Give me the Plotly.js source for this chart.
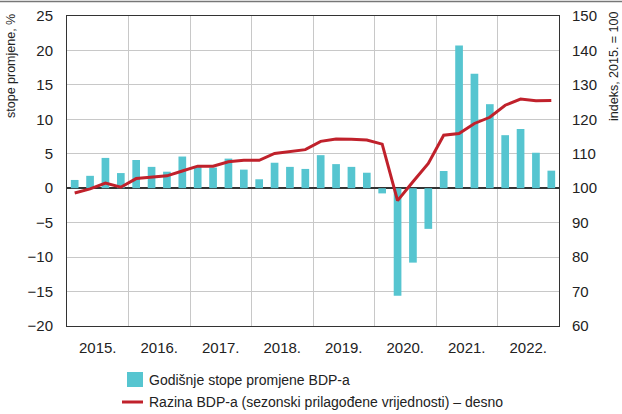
<!DOCTYPE html>
<html>
<head>
<meta charset="utf-8">
<script src="https://cdn.plot.ly/plotly-3.0.1.min.js"></script>
<style>html,body{margin:0;padding:0;background:#fff;}#chart{width:622px;height:414px;}</style>
</head>
<body>
<div id="chart"></div>
<script>
const years = ['2015.', '2016.', '2017.', '2018.', '2019.', '2020.', '2021.', '2022.'];
const quarters = ['2015Q1','2015Q2','2015Q3','2015Q4','2016Q1','2016Q2','2016Q3','2016Q4',
  '2017Q1','2017Q2','2017Q3','2017Q4','2018Q1','2018Q2','2018Q3','2018Q4',
  '2019Q1','2019Q2','2019Q3','2019Q4','2020Q1','2020Q2','2020Q3','2020Q4',
  '2021Q1','2021Q2','2021Q3','2021Q4','2022Q1','2022Q2','2022Q3','2022Q4'];
// Godišnje stope promjene BDP-a (%)
const growth = [1.2, 1.8, 4.4, 2.2, 4.1, 3.1, 2.4, 4.6,
  3.1, 3.0, 4.3, 2.7, 1.3, 3.7, 3.1, 2.8,
  4.8, 3.5, 3.1, 2.25, -0.75, -15.6, -10.8, -5.9,
  2.5, 20.7, 16.6, 12.2, 7.7, 8.6, 5.15, 2.55];
// Razina BDP-a, indeks 2015. = 100
const level = [98.6, 99.8, 101.5, 100.3, 102.8, 103.1, 103.6, 105.0,
  106.4, 106.4, 107.7, 108.1, 108.1, 110.1, 110.6, 111.2,
  113.6, 114.3, 114.2, 114.0, 112.8, 96.4, 101.9, 107.2,
  115.4, 115.9, 118.8, 120.6, 124.1, 125.9, 125.4, 125.5];
const seriesNames = ['Godišnje stope promjene BDP-a',
  'Razina BDP-a (sezonski prilagođene vrijednosti) – desno'];

const xIdx = quarters.map((q, i) => i);
const yearTickPos = years.map((y, i) => i * 4 + 1.5);

const FONT = '"Liberation Sans", Arial, sans-serif';
const GRID = '#c8c8c8';
const FRAME = '#333333';
const TXT = '#222222';
const BAR_COLOR = '#56c5d0';
const LINE_COLOR = '#c0212b';

// plot-area geometry (pixels) used to place legend/titles in paper coords
const M = {l: 67, r: 63, t: 16, b: 88};
const PW = 622 - M.l - M.r, PH = 414 - M.t - M.b;
const px = x => (x - M.l) / PW;
const py = y => (414 - M.b - y) / PH;

const traces = [
  {
    type: 'bar',
    name: seriesNames[0],
    x: xIdx,
    y: growth,
    customdata: quarters,
    hovertemplate: '%{customdata}: %{y}%<extra></extra>',
    marker: {color: BAR_COLOR},
    width: 0.5,
    yaxis: 'y'
  },
  {
    type: 'scatter',
    mode: 'lines',
    name: seriesNames[1],
    x: xIdx,
    y: level,
    customdata: quarters,
    hovertemplate: '%{customdata}: %{y}<extra></extra>',
    line: {color: LINE_COLOR, width: 3},
    yaxis: 'y2'
  }
];

const layout = {
  width: 622,
  height: 414,
  margin: M,
  paper_bgcolor: '#ffffff',
  plot_bgcolor: '#ffffff',
  font: {family: FONT, size: 14, color: TXT},
  showlegend: false,
  xaxis: {
    range: [-0.5, 31.5],
    tickmode: 'array',
    tickvals: yearTickPos,
    ticktext: years,
    ticks: '',
    showgrid: false,
    zeroline: false,
    showline: true,
    linecolor: FRAME,
    linewidth: 1,
    mirror: true,
    ticklabelstandoff: 8,
    tickfont: {family: FONT, size: 15, color: TXT},
    minor: {tick0: -0.5, dtick: 4, showgrid: true, gridcolor: GRID, gridwidth: 1, ticks: ''}
  },
  yaxis: {
    range: [-20, 25],
    tickmode: 'linear',
    tick0: -20,
    dtick: 5,
    ticks: '',
    showgrid: true,
    gridcolor: GRID,
    gridwidth: 1,
    zeroline: true,
    zerolinecolor: FRAME,
    zerolinewidth: 1.5,
    showline: true,
    linecolor: FRAME,
    linewidth: 1,
    ticklabelstandoff: 10,
    tickfont: {family: FONT, size: 15, color: TXT}
  },
  yaxis2: {
    overlaying: 'y',
    side: 'right',
    range: [60, 150],
    tickmode: 'linear',
    tick0: 60,
    dtick: 10,
    ticks: '',
    showgrid: false,
    zeroline: false,
    showline: true,
    linecolor: FRAME,
    linewidth: 1,
    ticklabelstandoff: 9,
    tickfont: {family: FONT, size: 15, color: TXT}
  },
  annotations: [
    {
      text: 'stope promjene, %',
      xref: 'paper', yref: 'paper',
      x: px(11), y: py(12),
      xanchor: 'center', yanchor: 'top',
      textangle: -90,
      showarrow: false,
      font: {family: FONT, size: 12.5, color: TXT}
    },
    {
      text: 'indeks, 2015. = 100',
      xref: 'paper', yref: 'paper',
      x: px(614), y: py(9),
      xanchor: 'center', yanchor: 'top',
      textangle: -90,
      showarrow: false,
      font: {family: FONT, size: 12.5, color: TXT}
    },
    {
      text: seriesNames[0],
      xref: 'paper', yref: 'paper',
      x: px(147), y: py(380),
      xanchor: 'left', yanchor: 'middle',
      showarrow: false,
      font: {family: FONT, size: 14, color: TXT}
    },
    {
      text: seriesNames[1],
      xref: 'paper', yref: 'paper',
      x: px(147), y: py(402),
      xanchor: 'left', yanchor: 'middle',
      showarrow: false,
      font: {family: FONT, size: 14, color: TXT}
    }
  ],
  shapes: [
    {
      type: 'line', xref: 'paper', yref: 'paper',
      x0: px(0), x1: px(622),
      y0: py(1.5), y1: py(1.5),
      line: {color: '#777777', width: 1.5}
    },
    {
      type: 'rect', xref: 'paper', yref: 'paper',
      x0: px(127), x1: px(143), y0: py(387), y1: py(372),
      fillcolor: BAR_COLOR, line: {width: 0}
    },
    {
      type: 'line', xref: 'paper', yref: 'paper',
      x0: px(122), x1: px(143), y0: py(402), y1: py(402),
      line: {color: LINE_COLOR, width: 3}
    }
  ]
};

Plotly.newPlot('chart', traces, layout, {displayModeBar: false, staticPlot: true});
</script>
</body>
</html>
